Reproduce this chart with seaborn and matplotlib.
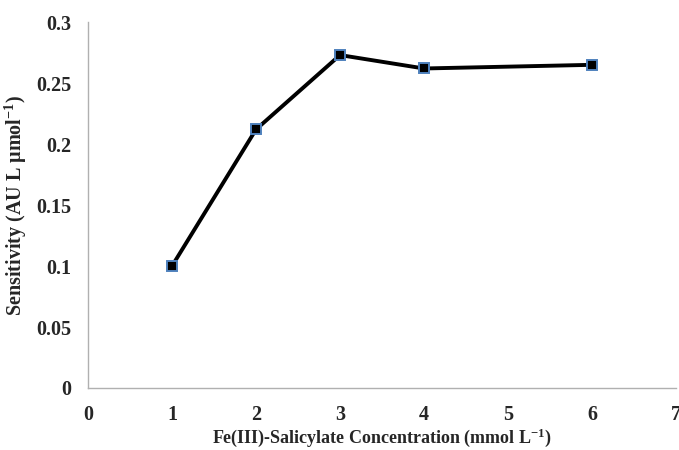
import matplotlib
matplotlib.use("Agg")
import matplotlib.pyplot as plt
import seaborn as sns
import pandas as pd

concentration = [1, 2, 3, 4, 6]
sensitivity = [0.100, 0.212, 0.273, 0.262, 0.265]
x_ticks = [0, 1, 2, 3, 4, 5, 6, 7]
y_ticks = [0, 0.05, 0.1, 0.15, 0.2, 0.25, 0.3]
y_tick_labels = ["0", "0.05", "0.1", "0.15", "0.2", "0.25", "0.3"]

sns.set_theme(style="white")
plt.rcParams["font.family"] = ["Liberation Serif", "DejaVu Serif"]
plt.rcParams["font.weight"] = "bold"
plt.rcParams["mathtext.fontset"] = "custom"
plt.rcParams["mathtext.rm"] = "Liberation Serif:bold"
plt.rcParams["mathtext.it"] = "Liberation Serif:bold"
plt.rcParams["mathtext.bf"] = "Liberation Serif:bold"

df = pd.DataFrame({"x": concentration, "y": sensitivity})

fig = plt.figure(figsize=(6.79, 4.5), dpi=100)
ax = fig.add_axes([0.1296, 0.1378, 0.866, 0.813])

sns.lineplot(data=df, x="x", y="y", ax=ax, color="black", linewidth=2.8,
             marker="s", markersize=7.5, markerfacecolor="black",
             markeredgecolor="#4f81bd", markeredgewidth=1.4)

ax.set_xlim(0, 7)
ax.set_ylim(0, 0.3)
ax.set_xticks(x_ticks)
ax.set_xticklabels([str(t) for t in x_ticks])
ax.set_yticks(y_ticks)
ax.set_yticklabels(y_tick_labels)
ax.tick_params(axis="both", length=0, labelsize=14.5, pad=12)
for lab in ax.get_xticklabels() + ax.get_yticklabels():
    lab.set_fontweight("bold")

for s in ["top", "right"]:
    ax.spines[s].set_visible(False)
for s in ["left", "bottom"]:
    ax.spines[s].set_color("#b0b0b0")
    ax.spines[s].set_linewidth(1.0)

ax.set_xlabel(r"Fe(III)-Salicylate Concentration (mmol L$^{-1}$)", fontsize=13,
              fontweight="bold", labelpad=1)
ax.set_ylabel(r"Sensitivity (AU L μmol$^{-1}$)", fontsize=14.5,
              fontweight="bold", labelpad=5)

fig.savefig("out.png", dpi=100)
